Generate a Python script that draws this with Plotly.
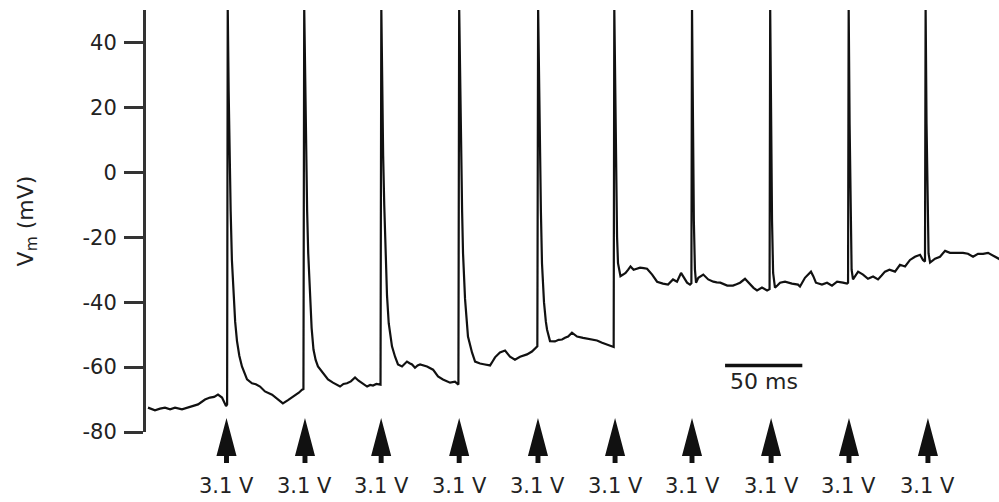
import plotly.graph_objects as go

# ---- data (time in ms, membrane potential in mV) ----
trace_t = [
    -1.3, 3.2, 6.5, 9.7, 13.0, 16.2, 20.7, 24.0, 27.2, 31.1, 35.6, 38.8, 41.5, 44.0, 46.6, 49.2,
    49.9, 50.3, 50.9, 51.5, 52.2, 53.0, 54.0, 55.1, 56.3, 57.8, 59.5, 61.2, 62.8, 66.0, 68.5, 71.2,
    74.4, 79.0, 82.8, 86.0, 89.3, 91.5, 93.9, 96.3, 98.4, 99.3,
    99.8, 100.4, 101.0, 101.7, 102.4, 103.6, 104.6, 105.8, 107.2, 108.7, 112.0, 115.2, 118.4, 120.6,
    123.0, 125.2, 127.5, 130.0, 132.7, 135.0, 137.2, 140.5, 142.5, 144.3, 146.5, 149.2,
    149.7, 150.3, 150.9, 151.6, 152.4, 153.4, 154.5, 155.6, 156.6, 158.6, 160.5, 163.1, 164.8, 166.3,
    168.0, 169.6, 171.5, 173.2, 174.8, 177.0, 179.3, 183.2, 186.4, 189.6, 192.0, 194.2, 197.4, 199.6,
    200.1, 200.7, 201.3, 202.0, 202.6, 203.9, 205.8, 208.4, 210.4, 213.6, 216.8, 220.1, 221.8, 223.3,
    226.5, 229.8, 233.0, 236.2, 239.5, 244.0, 247.2, 249.8, 250.7,
    251.2, 251.8, 252.4, 253.0, 253.7, 255.0, 256.2, 257.0, 258.9, 262.1, 264.5, 266.7, 268.6, 270.6,
    273.1, 276.4, 280.3, 284.8, 289.3, 292.6, 295.8, 299.0, 300.1,
    300.5, 301.1, 301.7, 302.3, 302.9, 304.5, 306.2, 307.8, 309.5, 311.0, 313.0, 315.0, 317.2, 319.5,
    321.7, 325.0, 328.2, 332.0, 335.3, 338.5, 341.1, 343.7, 345.6, 347.6, 349.5, 350.4,
    350.8, 351.4, 352.0, 352.7, 353.4, 354.9, 356.5, 358.1, 361.3, 364.6, 366.8, 369.1, 373.6, 377.3,
    379.6, 381.9, 385.1, 388.3, 390.6, 392.9, 396.1, 399.4, 401.0,
    401.4, 402.0, 402.6, 403.3, 404.5, 406.2, 407.8, 411.0, 413.2, 415.5, 419.4, 420.7, 423.9, 427.8,
    429.3, 431.0, 434.9, 438.2, 441.4, 444.7, 448.5, 451.1, 451.8,
    452.2, 452.8, 453.4, 454.1, 455.0, 456.7, 458.3, 461.5, 464.7, 468.0, 471.2, 473.5, 475.7, 478.6,
    482.2, 485.4, 488.7, 491.9, 495.1, 498.4, 500.3, 501.6,
    502.0, 502.6, 503.2, 503.9, 504.9, 508.1, 511.3, 514.6, 517.8, 522.3, 526.2, 529.4, 532.7, 535.9,
    539.2, 542.4, 545.6, 548.9, 550.0,
]
trace_v = [
    -72.5, -73.3, -72.8, -72.5, -73.0, -72.5, -73.0, -72.6, -72.0, -71.5, -70.0, -69.4, -69.2, -68.5, -69.4, -72.0,
    -71.5, 51, 25, 5, -12, -27, -38, -46, -52, -56.5, -59.8, -62.2, -63.8, -65.0, -65.3, -66.0,
    -67.5, -68.5, -70.0, -71.2, -70.2, -69.5, -68.5, -67.9, -67.0, -66.8,
    51, 25, 5, -12, -25, -40, -48, -54.6, -57.8, -59.8, -61.7, -63.8, -64.8, -65.5,
    -66.0, -65.2, -65.0, -64.4, -63.2, -64.2, -65.0, -66.0, -65.5, -65.7, -65.2, -65.4,
    51, 25, 5, -10, -21.7, -38, -46.5, -51, -53.6, -56.8, -59.2, -59.8, -58.9, -58.3,
    -58.8, -59.2, -60.2, -59.5, -59.2, -59.6, -59.8, -60.8, -62.9, -63.8, -64.2, -64.8, -64.5, -65.4,
    51, 25, 5, -12, -25, -39, -50.6, -55.5, -58.3, -58.9, -59.2, -59.5, -58.2, -57.0,
    -55.5, -54.9, -56.8, -57.7, -56.8, -56.1, -55.2, -54.0, -53.6,
    51, 25, 5, -12, -28, -40, -46, -48.5, -52.0, -52.1, -51.6, -51.5, -51.0, -50.6,
    -49.4, -50.6, -51.0, -51.5, -51.8, -52.5, -53.0, -53.6, -53.8,
    51, 20, -5, -20, -28, -32, -31.5, -31.0, -30.0, -29.0, -30.0, -29.7, -29.4, -29.5,
    -29.7, -31.5, -33.7, -34.3, -34.6, -33.0, -33.7, -31.0, -32.5, -34.0, -34.6, -34.2,
    51, 15, -15, -30, -34, -32.5, -32.0, -31.5, -33.0, -33.7, -33.9, -34.0, -34.9, -34.9,
    -34.5, -34.0, -32.8, -34.6, -35.6, -36.4, -35.5, -36.4, -36.0,
    51, 15, -15, -31, -35.5, -34.8, -34.0, -33.7, -34.1, -34.3, -34.6, -35.2, -32.5, -30.6,
    -32.0, -34.0, -34.6, -34.0, -34.9, -33.7, -34.0, -34.3, -34.0,
    51, 15, -15, -30, -33.0, -31.8, -30.6, -31.5, -32.8, -32.1, -33.0, -31.8, -30.6, -30.0,
    -30.6, -28.5, -29.0, -27.0, -26.0, -25.4, -27.0, -27.5,
    51, 15, -12, -25, -27.8, -26.6, -26.0, -24.2, -24.8, -24.8, -24.8, -25.1, -26.0, -25.1,
    -25.1, -24.8, -25.7, -26.6, -26.8,
]
stim_times = [49.5, 100.3, 149.6, 200.1, 251.1, 301.0, 350.8, 402.0, 452.4, 503.5]
stim_labels = ["3.1 V"] * len(stim_times)
y_ticks = [-80, -60, -40, -20, 0, 20, 40]
y_ticktext = ["-80", "-60", "-40", "-20", "0", "20", "40"]
scalebar_ms = 50
scalebar_start = 372.2
scalebar_level = -59.5

FONT = "DejaVu Sans, Liberation Sans, Arial, sans-serif"
INK = "#111111"
TXT = "#222222"

fig = go.Figure()
fig.add_trace(go.Scatter(
    x=trace_t, y=trace_v, mode="lines",
    line=dict(color=INK, width=2.2), hoverinfo="skip", showlegend=False,
))

# stimulus arrows (filled triangle + stem) and labels
tip, base, bottom = 0.033, -0.057, -0.0735
hw, sw = 6.5, 1.6
for t, lab in zip(stim_times, stim_labels):
    path = (f"M {t-hw},{base} L {t},{tip} L {t+hw},{base} L {t+sw},{base} "
            f"L {t+sw},{bottom} L {t-sw},{bottom} L {t-sw},{base} Z")
    fig.add_shape(type="path", path=path, xref="x", yref="paper",
                  fillcolor=INK, line=dict(width=0), layer="above")
    fig.add_annotation(x=t, y=-0.128, xref="x", yref="paper", text=lab,
                       showarrow=False, xanchor="center", yanchor="middle",
                       font=dict(family=FONT, size=21, color=TXT))

# scale bar
fig.add_shape(type="line", xref="x", yref="y",
              x0=scalebar_start, x1=scalebar_start + scalebar_ms,
              y0=scalebar_level, y1=scalebar_level,
              line=dict(color=INK, width=3.5))
fig.add_annotation(x=scalebar_start + scalebar_ms / 2, y=scalebar_level - 4.9,
                   xref="x", yref="y", text=f"{scalebar_ms} ms", showarrow=False,
                   xanchor="center", yanchor="middle",
                   font=dict(family=FONT, size=22, color=TXT))

# y-axis title
fig.add_annotation(x=-0.1395, y=0.499, xref="paper", yref="paper",
                   text="V<sub>m</sub> (mV)", textangle=-90, showarrow=False,
                   xanchor="center", yanchor="middle",
                   font=dict(family=FONT, size=22, color=TXT))

fig.update_layout(
    width=999, height=502,
    margin=dict(l=146, r=0, t=10, b=70),
    paper_bgcolor="white", plot_bgcolor="white",
    xaxis=dict(range=[-2.6, 549.5], visible=False, showgrid=False, zeroline=False),
    yaxis=dict(range=[-80, 50], tickvals=y_ticks, ticktext=y_ticktext,
               ticks="outside", ticklen=19,
               tickwidth=3, tickcolor="#333", showline=True, linewidth=3,
               linecolor="#333", showgrid=False, zeroline=False,
               ticklabelstandoff=3,
               tickfont=dict(family=FONT, size=21, color=TXT)),
)

fig.write_html("out.html")
